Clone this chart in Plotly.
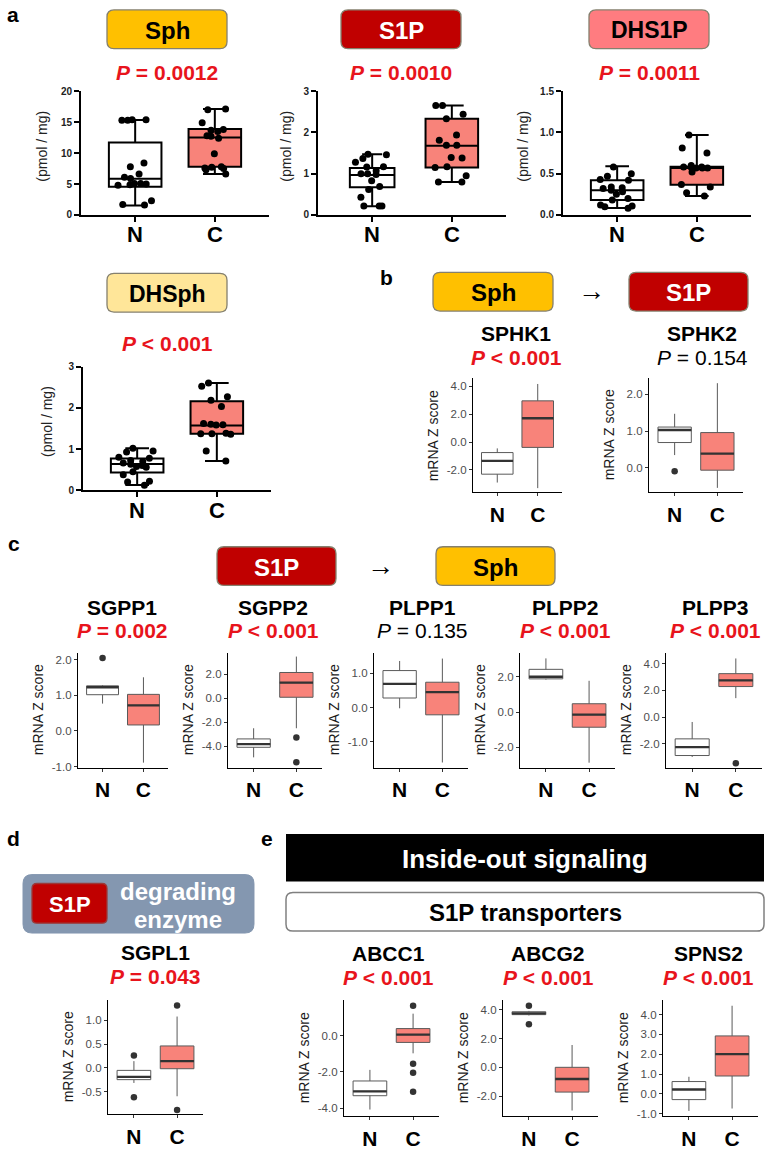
import plotly.graph_objects as go

W, H = 767, 1150
FONT = 'Arial, Liberation Sans, sans-serif'
SALMON = '#F8837A'
RED_P = '#E8141C'

# ---- panel a : sphingolipid levels (pmol / mg), individual samples ----
metabolites = ['Sph', 'S1P', 'DHS1P', 'DHSph']
p_a = ['= 0.0012', '= 0.0010', '= 0.0011', '< 0.001']
groups = ['N', 'C']

sph_n = [15.4, 15.3, 15.3, 15.4, 8.4, 7.8, 6.6, 6.1, 5.9, 5.1, 4.9, 5.0, 5.1, 4.8, 2.3, 1.6, 1.7]
sph_c = [17.1, 17.0, 14.9, 13.8, 13.5, 13.7, 12.8, 12.7, 12.4, 9.9, 7.8, 7.6, 7.7, 7.5, 7.3, 6.6]
s1p_n = [1.47, 1.46, 1.37, 1.28, 1.17, 1.16, 1.07, 1.0, 0.98, 1.0, 0.83, 0.69, 0.62, 0.43, 0.22, 0.22, 0.22]
s1p_c = [2.65, 2.65, 2.44, 2.33, 1.94, 1.81, 1.69, 1.69, 1.38, 1.39, 1.17, 1.15, 0.95, 0.8, 0.8]
dhs1p_n = [0.58, 0.50, 0.47, 0.43, 0.42, 0.34, 0.33, 0.32, 0.30, 0.28, 0.25, 0.20, 0.18, 0.12, 0.11, 0.08, 0.10]
dhs1p_c = [0.97, 0.81, 0.75, 0.60, 0.58, 0.57, 0.57, 0.58, 0.57, 0.58, 0.52, 0.37, 0.34, 0.27, 0.23]
dhsph_n = [1.02, 0.95, 0.93, 0.80, 0.78, 0.72, 0.70, 0.63, 0.58, 0.56, 0.45, 0.38, 0.22, 0.20, 0.12, 0.66, 0.60]
dhsph_c = [2.6, 2.52, 2.27, 2.18, 2.03, 1.62, 1.58, 1.59, 1.60, 1.37, 1.36, 1.38, 1.37, 0.95, 0.71]

# box stats: [min, q1, median, q3, max]
sph_box_n = [1.55, 4.55, 5.85, 11.7, 15.35]
sph_box_c = [6.6, 7.8, 12.5, 13.9, 17.1]
s1p_box_n = [0.21, 0.67, 0.97, 1.14, 1.47]
s1p_box_c = [0.8, 1.15, 1.68, 2.33, 2.65]
dhs1p_box_n = [0.085, 0.18, 0.30, 0.42, 0.59]
dhs1p_box_c = [0.23, 0.365, 0.57, 0.585, 0.97]
dhsph_box_n = [0.13, 0.43, 0.64, 0.77, 1.02]
dhsph_box_c = [0.71, 1.37, 1.57, 2.16, 2.6]

sph_ticks = [0, 5, 10, 15, 20]
s1p_ticks = [0, 1, 2, 3]
dhs1p_ticks = [0.0, 0.5, 1.0, 1.5]
dhsph_ticks = [0, 1, 2, 3]
dhs1p_ticktext = ['0.0', '0.5', '1.0', '1.5']

# ---- panels b-e : mRNA Z scores ----
genes = ['SPHK1', 'SPHK2', 'SGPP1', 'SGPP2', 'PLPP1', 'PLPP2', 'PLPP3',
         'SGPL1', 'ABCC1', 'ABCG2', 'SPNS2']
gene_p = ['< 0.001', '= 0.154', '= 0.002', '< 0.001', '= 0.135', '< 0.001',
          '< 0.001', '= 0.043', '< 0.001', '< 0.001', '< 0.001']
gene_sig = [True, False, True, True, False, True, True, True, True, True, True]

n_lo = [-2.9, 0.35, 0.77, -4.94, -0.02, 1.84, -3.0, -0.32, -4.07, 3.6, -0.86]
n_q1 = [-2.3, 0.69, 1.02, -4.1, 0.28, 1.88, -2.89, -0.25, -3.31, 3.66, -0.29]
n_med = [-1.35, 1.03, 1.23, -3.84, 0.69, 2.0, -2.26, -0.19, -3.07, 3.75, 0.22]
n_q3 = [-0.75, 1.11, 1.27, -3.4, 1.08, 2.42, -1.64, -0.055, -2.5, 3.86, 0.62]
n_hi = [-0.45, 1.47, 1.29, -2.51, 1.36, 3.04, -0.37, 0.14, -1.89, 3.92, 0.86]
n_out = [[], [-0.09], [2.05], [], [], [], [], [0.26, -0.62], [], [4.28, 3.0], []]

c_lo = [-3.3, -0.54, -0.89, -2.51, -1.6, -2.87, 1.42, -0.6, -0.98, -3.0, -0.74]
c_q1 = [-0.38, -0.06, 0.17, 0.08, -0.21, -0.86, 2.29, -0.02, -0.38, -1.72, 0.9]
c_med = [1.71, 0.39, 0.72, 1.3, 0.45, -0.15, 2.76, 0.14, 0.05, -0.81, 2.0]
c_q3 = [2.96, 0.96, 1.03, 2.15, 0.74, 0.47, 3.26, 0.46, 0.38, 0.0, 2.92]
c_hi = [4.17, 2.3, 1.51, 3.48, 1.43, 1.77, 4.4, 1.08, 1.2, 1.55, 4.44]
c_out = [[], [], [], [-3.29, -5.36], [], [], [-3.48], [1.31, -0.89],
         [1.64, -1.55, -2.05, -3.09], [], []]

gene_ticks = [[-2, 0, 2, 4], [0, 1, 2], [-1, 0, 1, 2], [-4, -2, 0, 2], [-1, 0, 1],
              [-2, 0, 2], [-2, 0, 2, 4], [-0.5, 0, 0.5, 1.0], [-4, -2, 0],
              [-2, 0, 2, 4], [-1, 0, 1, 2, 3, 4]]


def px(x):
    return x / W


def py(y):
    return 1 - y / H


def rrect(x0, y0, x1, y1, r):
    p = lambda x, y: f'{px(x):.5f},{py(y):.5f}'
    return (f'M {p(x0 + r, y0)} L {p(x1 - r, y0)} Q {p(x1, y0)} {p(x1, y0 + r)} '
            f'L {p(x1, y1 - r)} Q {p(x1, y1)} {p(x1 - r, y1)} '
            f'L {p(x0 + r, y1)} Q {p(x0, y1)} {p(x0, y1 - r)} '
            f'L {p(x0, y0 + r)} Q {p(x0, y0)} {p(x0 + r, y0)} Z')


fig = go.Figure()
axes = {}
annotations = []
shapes = []


def txt(x, y, s, size, color='black', **kw):
    annotations.append(dict(x=px(x), y=py(y), xref='paper', yref='paper', text=s,
                            showarrow=False, xanchor='center', yanchor='middle',
                            font=dict(size=size, color=color, family=FONT), **kw))


def box_label(x0, y0, x1, y1, fill, text, color, size, border='#85806E', r=7):
    shapes.append(dict(type='path', path=rrect(x0, y0, x1, y1, r), xref='paper',
                       yref='paper', fillcolor=fill, line=dict(color=border, width=1.3)))
    txt((x0 + x1) / 2, (y0 + y1) / 2 + 1, f'<b>{text}</b>', size, color)


def add_axes(i, xd, yd, yr, xstyle, ystyle):
    xk = 'xaxis' if i == 1 else f'xaxis{i}'
    yk = 'yaxis' if i == 1 else f'yaxis{i}'
    ya = 'y' if i == 1 else f'y{i}'
    xa = 'x' if i == 1 else f'x{i}'
    axes[xk] = dict(domain=[px(xd[0]), px(xd[1])], anchor=ya, type='category',
                    categoryorder='array', categoryarray=groups,
                    showgrid=False, zeroline=False, **xstyle)
    axes[yk] = dict(domain=[py(yd[1]), py(yd[0])], anchor=xa, range=yr,
                    showgrid=False, zeroline=False, **ystyle)
    return xa, ya


# ---------------- panel a ----------------
a_points = [(sph_n, sph_c), (s1p_n, s1p_c), (dhs1p_n, dhs1p_c), (dhsph_n, dhsph_c)]
a_boxes = [(sph_box_n, sph_box_c), (s1p_box_n, s1p_box_c),
           (dhs1p_box_n, dhs1p_box_c), (dhsph_box_n, dhsph_box_c)]
a_ticks = [(sph_ticks, [str(v) for v in sph_ticks]), (s1p_ticks, [str(v) for v in s1p_ticks]),
           (dhs1p_ticks, dhs1p_ticktext), (dhsph_ticks, [str(v) for v in dhsph_ticks])]
a_left = [81, 318, 563, 83]
a_top = [87, 87, 87, 365]
a_ymax = [20, 3, 1.5, 3]
a_ytitle_x = [42, 286, 523, 47]
a_label_box = [(107, 5, 227, 44), (341, 5, 461, 44), (589, 5, 709, 44), (107, 271, 227, 310)]
a_fill = ['#FFC000', '#C00000', '#FF7C80', '#FFE699']
a_text_col = ['black', 'white', 'black', 'black']
a_text_size = [24, 24, 23, 23]
a_p_y = [68, 68, 68, 342]
a_nwidth = [0.66, 0.56, 0.66, 0.66]

xa_style = dict(range=[-0.68, 1.68], showline=True, linewidth=2, linecolor='black',
                ticks='outside', ticklen=5, tickwidth=2, tickcolor='black',
                showticklabels=False)
for k in range(4):
    tv, tt = a_ticks[k]
    ya_style = dict(showline=True, linewidth=2, linecolor='black', ticks='outside',
                    ticklen=5, tickwidth=2, tickcolor='black', tickvals=tv, ticktext=tt,
                    tickfont=dict(size=10, family=FONT, color='#222', weight='bold'))
    xa, ya = add_axes(k + 1, (a_left[k], a_left[k] + 188), (a_top[k], a_top[k] + 125),
                      [0, a_ymax[k]], xa_style, ya_style)
    for grp, vals, st, fill, w in [('N', a_points[k][0], a_boxes[k][0], 'white', a_nwidth[k]),
                                   ('C', a_points[k][1], a_boxes[k][1], SALMON, 0.66)]:
        fig.add_trace(go.Box(x=[grp], lowerfence=[st[0]], q1=[st[1]], median=[st[2]],
                             q3=[st[3]], upperfence=[st[4]], fillcolor=fill, width=w,
                             line=dict(color='black', width=2), whiskerwidth=0.45,
                             boxpoints=False, xaxis=xa, yaxis=ya, showlegend=False,
                             hoverinfo='skip'))
        fig.add_trace(go.Box(x=[grp] * len(vals), y=vals, boxpoints='all', jitter=0.8,
                             pointpos=0, fillcolor='rgba(0,0,0,0)', width=w,
                             line=dict(color='rgba(0,0,0,0)', width=0),
                             marker=dict(color='black', size=7), xaxis=xa, yaxis=ya,
                             showlegend=False, hoverinfo='skip'))
    # group labels under the axis
    for j, grp in enumerate(groups):
        annotations.append(dict(x=j, xref=xa, y=py(a_top[k] + 125 + 20), yref='paper',
                                text=f'<b>{grp}</b>', showarrow=False, xanchor='center',
                                yanchor='middle', font=dict(size=22, family=FONT, color='black')))
    bx = a_label_box[k]
    box_label(*bx, a_fill[k], metabolites[k], a_text_col[k], a_text_size[k])
    txt((bx[0] + bx[2]) / 2, a_p_y[k], f'<b><i>P</i> {p_a[k]}</b>', 21, RED_P)
    txt(a_ytitle_x[k], a_top[k] + 56, '(pmol / mg)', 14, '#222', textangle=-90)

# ---------------- panels b-e ----------------
gx = [(473, 562), (649, 743), (78, 168), (228, 322), (374, 468), (520, 615), (666, 762),
      (108, 203), (344, 439), (503, 598), (663, 758)]
gy = [(377, 492)] * 2 + [(654, 770)] * 5 + [(1005, 1120)] + [(1005, 1122)] * 3
g_range = [[-3.6, 4.57], [-0.66, 2.43], [-1.03, 2.2], [-5.8, 3.8], [-1.75, 1.6],
           [-3.15, 3.36], [-3.8, 4.83], [-0.98, 1.42], [-4.44, 1.93], [-3.4, 4.65],
           [-1.13, 4.71]]
g_title_x = [516, 702, 122, 273, 422, 565, 715, 155, 388, 548, 708]
g_title_y = [332, 332, 608, 608, 608, 608, 608, 957, 958, 958, 958]

xg_style = dict(range=[-0.6, 1.6], showline=True, linewidth=1.2, linecolor='black',
                ticks='outside', ticklen=3, tickwidth=1, tickcolor='#333',
                tickfont=dict(size=21, family=FONT, color='black', weight='bold'))
for g in range(len(genes)):
    yg_style = dict(showline=True, linewidth=1.2, linecolor='black', ticks='outside',
                    ticklen=3, tickwidth=1, tickcolor='#333', tickvals=gene_ticks[g],
                    ticktext=[f'{v:.1f}' for v in gene_ticks[g]],
                    tickfont=dict(size=11.5, family=FONT, color='#4D4D4D'))
    xa, ya = add_axes(5 + g, gx[g], gy[g], g_range[g], xg_style, yg_style)
    for grp, st, fill, outs in [('N', (n_lo[g], n_q1[g], n_med[g], n_q3[g], n_hi[g]), 'white', n_out[g]),
                                ('C', (c_lo[g], c_q1[g], c_med[g], c_q3[g], c_hi[g]), SALMON, c_out[g])]:
        fig.add_trace(go.Box(x=[grp], lowerfence=[st[0]], q1=[st[1]], median=[st[2]],
                             q3=[st[3]], upperfence=[st[4]], fillcolor=fill, width=0.78,
                             line=dict(color='#5A5A5A', width=1), whiskerwidth=0,
                             boxpoints=False, xaxis=xa, yaxis=ya, showlegend=False,
                             hoverinfo='skip'))
        # thick median bar
        m = st[2]
        fig.add_trace(go.Box(x=[grp], lowerfence=[m], q1=[m], median=[m], q3=[m],
                             upperfence=[m], fillcolor='rgba(0,0,0,0)', width=0.78,
                             line=dict(color='#333333', width=2.3), whiskerwidth=0,
                             boxpoints=False, xaxis=xa, yaxis=ya, showlegend=False,
                             hoverinfo='skip'))
        if outs:
            fig.add_trace(go.Scatter(x=[grp] * len(outs), y=outs, mode='markers',
                                     marker=dict(color='#333333', size=6.5),
                                     xaxis=xa, yaxis=ya, showlegend=False,
                                     hoverinfo='skip'))
    txt(g_title_x[g], g_title_y[g], f'<b>{genes[g]}</b>', 21)
    if gene_sig[g]:
        txt(g_title_x[g], g_title_y[g] + 24, f'<b><i>P</i> {gene_p[g]}</b>', 21, RED_P)
    else:
        txt(g_title_x[g], g_title_y[g] + 24, f'<i>P</i> {gene_p[g]}', 21, 'black')
    txt(gx[g][0] - 40, (gy[g][0] + gy[g][1]) / 2, 'mRNA Z score', 14, '#1A1A1A',
        textangle=-90)

# panel b headers
box_label(433, 270, 553, 309, '#FFC000', 'Sph', 'black', 24)
txt(591, 289, '→', 27)
box_label(629, 270, 748, 309, '#C00000', 'S1P', 'white', 24)

# panel c headers
box_label(217, 547, 336, 586, '#C00000', 'S1P', 'white', 24)
txt(380, 566, '→', 27)
box_label(436, 547, 555, 586, '#FFC000', 'Sph', 'black', 24)

# panel d header
shapes.append(dict(type='path', path=rrect(23, 878, 254, 937, 9), xref='paper', yref='paper',
                   fillcolor='#8497B0', line=dict(color='#8497B0', width=1)))
box_label(32, 887, 107, 927, '#C00000', 'S1P', 'white', 22, border='#9A3A3A', r=5)
txt(178, 895, '<b>degrading</b>', 24, 'white')
txt(178, 923, '<b>enzyme</b>', 24, 'white')

# panel e headers
shapes.append(dict(type='rect', x0=px(286), x1=px(764), y0=py(885), y1=py(837),
                   xref='paper', yref='paper', fillcolor='black', line=dict(width=0)))
txt(525, 862, '<b>Inside-out signaling</b>', 26, 'white')
shapes.append(dict(type='path', path=rrect(286, 896, 764, 935, 7), xref='paper',
                   yref='paper', fillcolor='white', line=dict(color='#808080', width=1.5)))
txt(525, 916, '<b>S1P transporters</b>', 24)

# panel letters
for lab, x, y in [('a', 13, 10), ('b', 387, 275), ('c', 14, 544), ('d', 13, 842), ('e', 267, 842)]:
    txt(x, y, f'<b>{lab}</b>', 21)

fig.update_layout(width=W, height=H, margin=dict(l=0, r=0, t=0, b=0), autosize=False,
                  plot_bgcolor='white', paper_bgcolor='white', boxmode='overlay',
                  font=dict(family=FONT), annotations=annotations, shapes=shapes,
                  showlegend=False, **axes)

fig.write_html('out.html', config={'displayModeBar': False},
               post_script="document.body.style.margin='0';"
                           "document.body.style.overflow='hidden';")
